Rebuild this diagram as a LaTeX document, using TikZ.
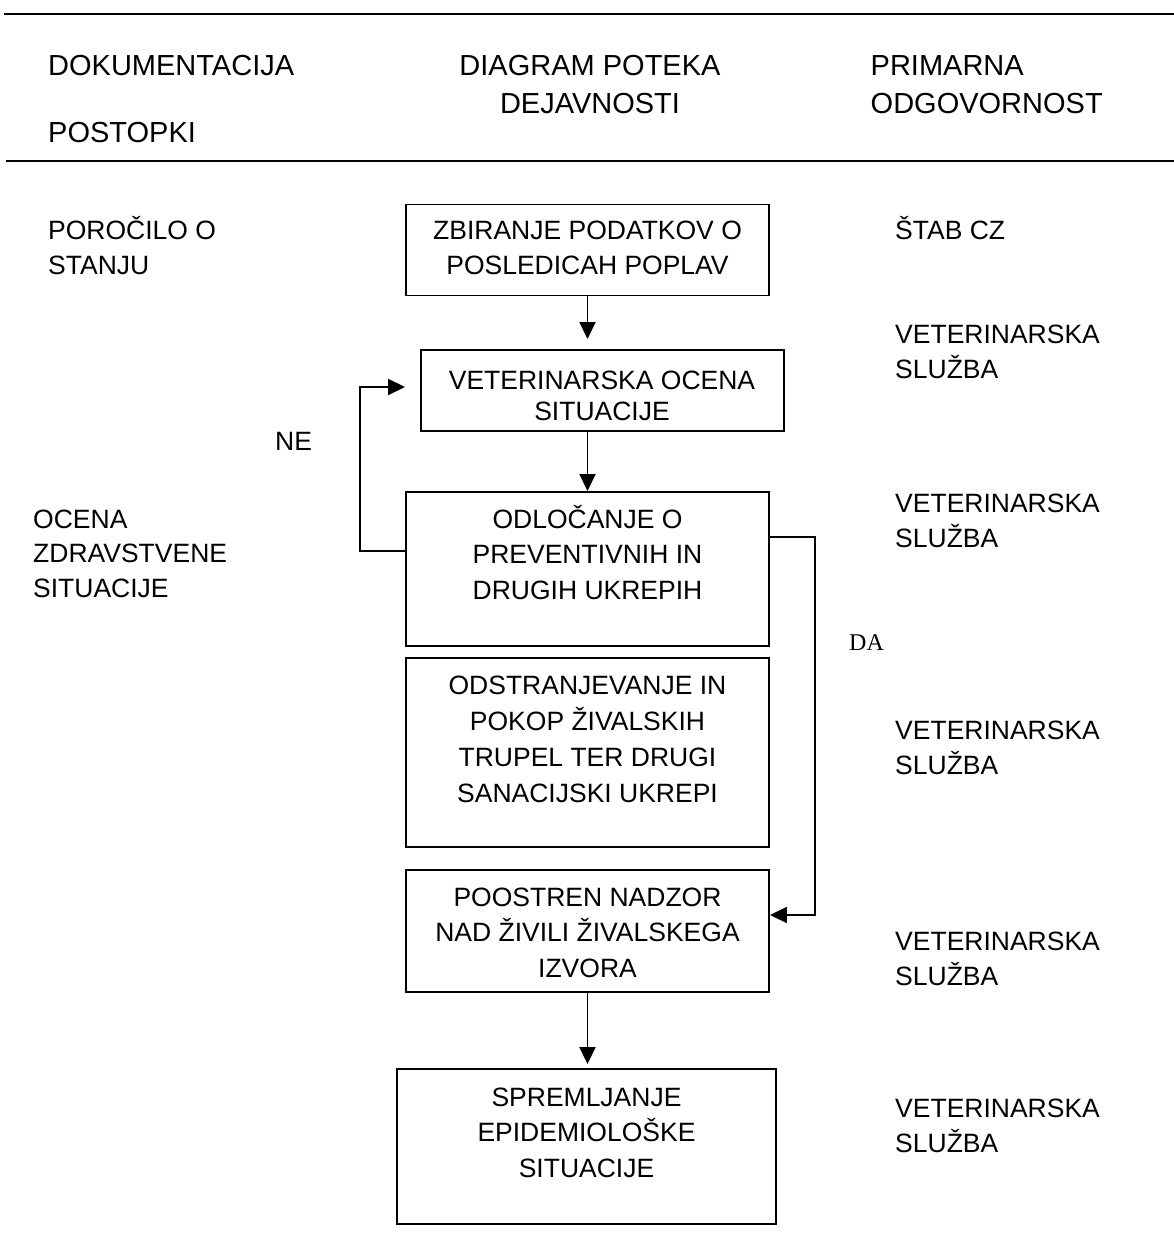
\documentclass[tikz,border=0pt]{standalone}
\usepackage{fontspec}
\setmainfont{Liberation Sans}
\newfontfamily\dafont{Liberation Serif}
\usetikzlibrary{arrows.meta}
\begin{document}
\begin{tikzpicture}[x=1pt,y=-1pt,
  box/.style={draw, line width=1.9pt, rectangle, inner sep=0pt},
  txt/.style={inner sep=0pt, font=\fontsize{26.5}{35.5}\selectfont},
  head/.style={inner sep=0pt, font=\fontsize{29}{38}\selectfont},
  conn/.style={line width=1.8pt, -{Triangle[length=17pt,width=16pt]}},
  hline/.style={line width=2.2pt}]
\useasboundingbox (0,0) rectangle (1174,1250);

% header
\draw[hline] (4,14) -- (1174,14);
\draw[hline] (6,161) -- (1174,161);
\node[head, anchor=base west] (h1) at (48,75) {DOKUMENTACIJA};
\node[head, anchor=base west] (h2) at (48,142) {POSTOPKI};
\node[head, anchor=north, align=center] (h3) at (590,47) {\rule{0pt}{28pt}DIAGRAM POTEKA\\DEJAVNOSTI};
\node[head, anchor=north west, align=left] (h4) at (870.5,47) {\rule{0pt}{28pt}PRIMARNA\\ODGOVORNOST};

% boxes
\node[box, minimum width=363pt, minimum height=91pt]  (b1) at (587.5,250) {};
\node[box, minimum width=363pt, minimum height=81pt]  (b2) at (602.5,390.5) {};
\node[box, minimum width=363pt, minimum height=154pt] (b3) at (587.5,569) {};
\node[box, minimum width=363pt, minimum height=189pt] (b4) at (587.5,752.5) {};
\node[box, minimum width=363pt, minimum height=122pt] (b5) at (587.5,931) {};
\node[box, minimum width=379pt, minimum height=155pt] (b6) at (586.5,1146.5) {};

% box texts
\node[txt, align=center, anchor=north] (t1) at (587.5,214) {\rule{0pt}{25pt}ZBIRANJE PODATKOV O\\POSLEDICAH POPLAV};
\node[txt, font=\fontsize{26.5}{31}\selectfont, align=center, anchor=north] (t2) at (602,364) {\rule{0pt}{25pt}VETERINARSKA OCENA\\SITUACIJE};
\node[txt, align=center, anchor=north] (t3) at (587.5,503) {\rule{0pt}{25pt}ODLOČANJE O\\PREVENTIVNIH IN\\DRUGIH UKREPIH};
\node[txt, font=\fontsize{26.5}{36}\selectfont, align=center, anchor=north] (t4) at (587.5,669) {\rule{0pt}{25pt}ODSTRANJEVANJE IN\\POKOP ŽIVALSKIH\\TRUPEL TER DRUGI\\SANACIJSKI UKREPI};
\node[txt, align=center, anchor=north] (t5) at (587.5,881) {\rule{0pt}{25pt}POOSTREN NADZOR\\NAD ŽIVILI ŽIVALSKEGA\\IZVORA};
\node[txt, align=center, anchor=north] (t6) at (586.5,1081) {\rule{0pt}{25pt}SPREMLJANJE\\EPIDEMIOLOŠKE\\SITUACIJE};

% left column
\node[txt, align=left, anchor=north west] (l1) at (48,214) {\rule{0pt}{25pt}POROČILO O\\STANJU};
\node[txt, font=\fontsize{26.5}{34.5}\selectfont, align=left, anchor=north west] (l2) at (33,503) {\rule{0pt}{25pt}OCENA\\ZDRAVSTVENE\\SITUACIJE};
\node[txt, anchor=base west] (ne) at (275,450) {NE};

% right column
\node[txt, anchor=base west] (r0) at (895,239) {ŠTAB CZ};
\node[txt, align=left, anchor=north west] (r1) at (895,318) {\rule{0pt}{25pt}VETERINARSKA\\SLUŽBA};
\node[txt, align=left, anchor=north west] (r2) at (895,487) {\rule{0pt}{25pt}VETERINARSKA\\SLUŽBA};
\node[txt, align=left, anchor=north west] (r3) at (895,714) {\rule{0pt}{25pt}VETERINARSKA\\SLUŽBA};
\node[txt, align=left, anchor=north west] (r4) at (895,925) {\rule{0pt}{25pt}VETERINARSKA\\SLUŽBA};
\node[txt, align=left, anchor=north west] (r5) at (895,1092) {\rule{0pt}{25pt}VETERINARSKA\\SLUŽBA};
\node[inner sep=0pt, font=\dafont\fontsize{24}{30}\selectfont, anchor=base west] (da) at (849,650) {DA};

% connectors
\draw[conn, shorten >=10pt] (b1.south) -- (b1.south |- b2.north);
\draw[conn] (b2.south -| b3.north) -- (b3.north);
\draw[conn, shorten >=15pt] ([yshift=18pt]b3.west) -- ++(-45,0) |- ([yshift=3.5pt]b2.west);
\draw[conn] ([yshift=32pt]b3.east) -- ++(45,0) |- ([yshift=16pt]b5.east);
\draw[conn, shorten >=4pt] (b5.south) -- (b5.south |- b6.north);
\end{tikzpicture}
\end{document}
